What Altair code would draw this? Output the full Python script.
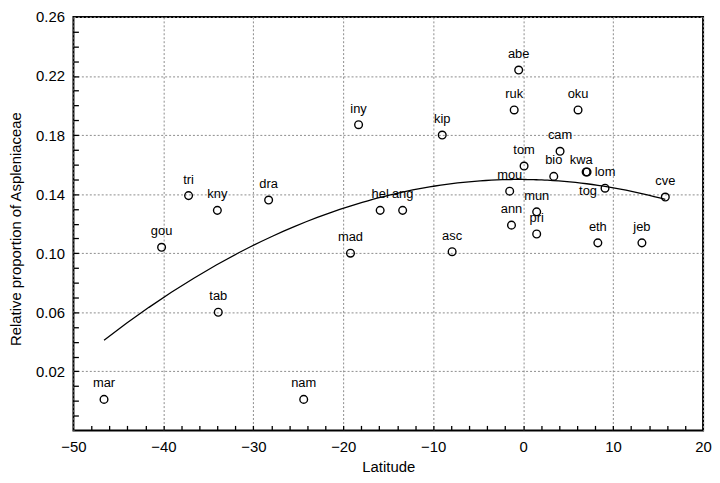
import altair as alt
import pandas as pd

# ---- data ----
sites = ["mar", "nam", "gou", "tri", "kny", "tab", "dra", "mad", "iny", "hel",
         "ang", "kip", "asc", "abe", "ruk", "oku", "cam", "tom", "bio", "kwa",
         "tog", "lom", "cve", "mou", "mun", "ann", "pri", "eth", "jeb"]
latitude = [-46.6, -24.4, -40.2, -37.2, -34.0, -33.9, -28.3, -19.2, -18.3, -15.9,
            -13.4, -9.0, -7.9, -0.5, -1.0, 6.1, 4.1, 0.1, 3.4, 7.0,
            7.1, 9.1, 15.8, -1.5, 1.5, -1.3, 1.5, 8.3, 13.2]
proportion = [0.001, 0.001, 0.104, 0.139, 0.129, 0.060, 0.136, 0.100, 0.187, 0.129,
              0.129, 0.180, 0.101, 0.224, 0.197, 0.197, 0.169, 0.159, 0.152, 0.155,
              0.155, 0.144, 0.138, 0.142, 0.128, 0.119, 0.113, 0.107, 0.107]

x_labels = [-50, -40, -30, -20, -10, 0, 10, 20]
y_labels = [0.02, 0.06, 0.10, 0.14, 0.18, 0.22, 0.26]
x_minor = list(range(-48, 20, 2))
y_minor = [round(-0.01 + 0.01 * i, 2) for i in range(27)]

df = pd.DataFrame({"site": sites, "lat": latitude, "val": proportion})

W, H = 635, 417
FONT = "Liberation Sans"

xs = alt.Scale(domain=[-50, 20], nice=False, zero=False)
ys = alt.Scale(domain=[-0.02, 0.26], nice=False, zero=False)

x_axis = alt.Axis(values=x_labels, format="d", title="Latitude", grid=True,
                  gridDash=[2, 2], gridColor="#8c8c8c", gridWidth=1,
                  ticks=False, domain=False, labelFlush=False, labelOverlap=False,
                  labelPadding=9, labelFontSize=15, labelColor="black",
                  labelFont=FONT, titleFont=FONT, titleFontSize=15,
                  titleFontWeight="normal", titleColor="black",
                  titleBaseline="middle", titleY=36)
y_axis = alt.Axis(values=y_labels, format=".2f",
                  title="Relative proportion of Aspleniaceae", grid=True,
                  gridDash=[2, 2], gridColor="#8c8c8c", gridWidth=1,
                  ticks=False, domain=False, labelFlush=False, labelOverlap=False,
                  labelPadding=9, labelFontSize=15, labelColor="black",
                  labelFont=FONT, titleFont=FONT, titleFontSize=15,
                  titleFontWeight="normal", titleColor="black",
                  titleBaseline="middle", titleAlign="center",
                  titleX=-58, titleY=H / 2 + 5)

base = alt.Chart(df)

points = base.mark_point(shape="circle", filled=False, color="black",
                         size=60, strokeWidth=1.4, opacity=1).encode(
    x=alt.X("lat:Q", scale=xs, axis=x_axis),
    y=alt.Y("val:Q", scale=ys, axis=y_axis),
)

tick_layer = base.mark_point(opacity=0).encode(
    x=alt.X("lat:Q", scale=xs,
            axis=alt.Axis(orient="top", offset=-H, values=x_minor, labels=False,
                          domain=False, grid=False, ticks=True, tickSize=5,
                          tickColor="black", tickWidth=1.3, title="")),
    y=alt.Y("val:Q", scale=ys,
            axis=alt.Axis(orient="right", offset=-W, values=y_minor, labels=False,
                          domain=False, grid=False, ticks=True, tickSize=5,
                          tickColor="black", tickWidth=1.3, title="")),
)

enc = dict(
    x=alt.X("lat:Q", scale=xs, axis=None),
    y=alt.Y("val:Q", scale=ys, axis=None),
    text="site:N",
)

labels = base.mark_text(font=FONT, fontSize=13, color="black",
                        baseline="middle", dy=-16).encode(**enc).transform_filter(
    "datum.site != 'tog' && datum.site != 'kwa'")
label_kwa = base.mark_text(font=FONT, fontSize=13, color="black",
                           baseline="middle", dy=-12, dx=-5).encode(**enc).transform_filter(
    "datum.site == 'kwa'")
label_tog = base.mark_text(font=FONT, fontSize=13, color="black",
                           baseline="middle", dy=19, dx=1).encode(**enc).transform_filter(
    "datum.site == 'tog'")

curve = base.transform_regression("lat", "val", method="poly", order=2).mark_line(
    color="black", strokeWidth=1.3).encode(
    x=alt.X("lat:Q", scale=xs, axis=None),
    y=alt.Y("val:Q", scale=ys, axis=None),
)

chart = alt.layer(points, tick_layer, curve, labels, label_kwa, label_tog).resolve_axis(
    x="independent", y="independent"
).properties(
    width=W, height=H,
    autosize=alt.AutoSizeParams(type="none"),
    padding={"left": 66, "top": 7, "right": 9, "bottom": 43},
    background="white",
).configure_view(stroke="black", strokeWidth=2)

chart.save("out.html", embed_options={"renderer": "svg", "actions": False})
